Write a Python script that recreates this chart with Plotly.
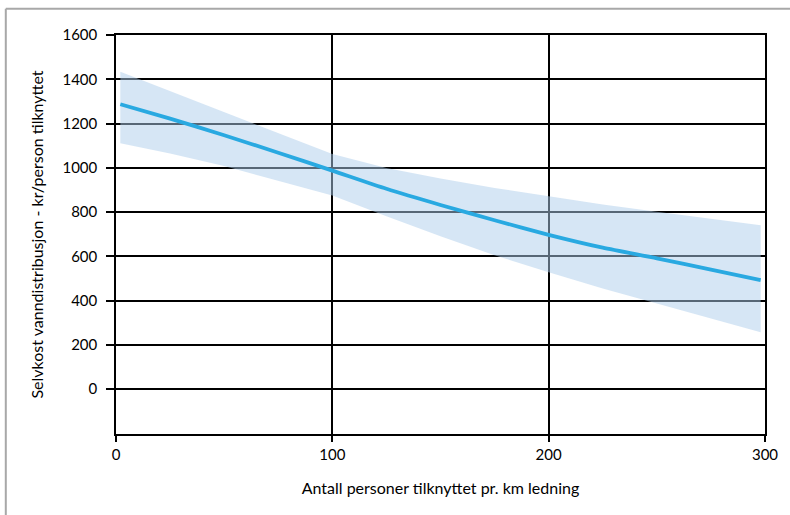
import plotly.graph_objects as go

# Data
x_vals = [2, 25, 50, 75, 100, 125, 150, 175, 200, 225, 250, 275, 298]
line_vals = [1287, 1222, 1147, 1068, 987, 905, 832, 763, 697, 639, 591, 540, 492]
upper_vals = [1434, 1347, 1252, 1157, 1062, 999, 952, 909, 871, 834, 801, 769, 740]
lower_vals = [1111, 1065, 1008, 942, 875, 781, 691, 605, 528, 454, 387, 319, 257]

y_ticks = [0, 200, 400, 600, 800, 1000, 1200, 1400, 1600]
x_ticks = [0, 100, 200, 300]

x_title = "Antall personer tilknyttet pr. km ledning"
y_title = "Selvkost vanndistribusjon - kr/person tilknyttet"

FONT = "Lato, 'Open Sans', sans-serif"

fig = go.Figure()

# Confidence band
fig.add_trace(go.Scatter(
    x=x_vals + x_vals[::-1],
    y=upper_vals + lower_vals[::-1],
    fill="toself",
    fillcolor="rgba(173,205,235,0.5)",
    line=dict(width=0),
    mode="lines",
    hoverinfo="skip",
    showlegend=False,
))

# Main line
fig.add_trace(go.Scatter(
    x=x_vals,
    y=line_vals,
    mode="lines",
    line=dict(color="#29a9e1", width=3.8, shape="spline", smoothing=0.6),
    showlegend=False,
))

fig.update_layout(
    width=790,
    height=515,
    margin=dict(l=115.5, r=24.7, t=35, b=80.7),
    paper_bgcolor="white",
    plot_bgcolor="white",
    font=dict(family=FONT, size=15, color="black"),
    showlegend=False,
    shapes=[
        dict(type="line", xref="paper", yref="paper",
             x0=-0.1698, x1=1.05, y0=1.066, y1=1.066,
             line=dict(color="#a8a8a8", width=2)),
        dict(type="line", xref="paper", yref="paper",
             x0=-0.1698, x1=-0.1698, y0=1.066, y1=-0.3,
             line=dict(color="#a8a8a8", width=2)),
    ],
)

fig.update_xaxes(
    range=[0, 300],
    tickvals=x_ticks,
    ticks="outside",
    ticklen=6,
    tickcolor="black",
    tickwidth=1.5,
    showgrid=True,
    gridcolor="black",
    gridwidth=1.5,
    showline=True,
    linecolor="black",
    linewidth=1.5,
    mirror=True,
    zeroline=False,
    tickfont=dict(size=15),
    title=dict(text=x_title, font=dict(size=16), standoff=21),
)

fig.update_yaxes(
    range=[-203, 1600],
    tickvals=y_ticks,
    ticks="outside",
    ticklen=8,
    tickcolor="black",
    tickwidth=1.5,
    showgrid=True,
    gridcolor="black",
    gridwidth=1.5,
    showline=True,
    linecolor="black",
    linewidth=1.5,
    mirror=True,
    zeroline=False,
    tickfont=dict(size=15),
    ticklabelstandoff=6,
    title=dict(text=y_title, font=dict(size=16), standoff=15),
)

fig.write_html("out.html")
